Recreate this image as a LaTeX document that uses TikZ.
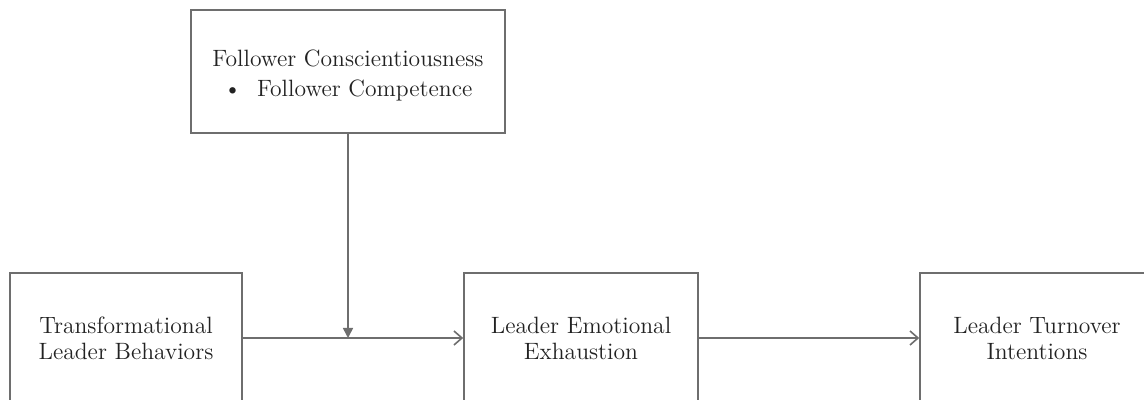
\documentclass[tikz,border=0pt]{standalone}
\usepackage{tikz}
\usetikzlibrary{arrows.meta}

\definecolor{linegray}{HTML}{6E6E6E}
\definecolor{textgray}{HTML}{222222}

\tikzset{
    box/.style = {draw=linegray, thick, align=center, text=textgray,
                  font=\fontsize{11.8}{13}\selectfont, inner sep=0pt},
    link/.style = {draw=linegray, thick}
}

\begin{document}
\begin{tikzpicture}[x=0.5pt, y=-0.5pt]
    \clip (0,0) rectangle (1144,400);
    \fill [white] (0,0) rectangle (1144,400);
    % moderator on top
    \node [box, minimum width=157pt, minimum height=61.5pt] (fc) at (348,71.5)
        {\rule{0pt}{12.5pt}Follower Conscientiousness\\[2pt] \textbullet\ \ Follower Competence};
    % main path
    \node [box, minimum width=116pt, minimum height=65pt] (tlb) at (126,338)
        {Transformational\\Leader Behaviors};
    \node [box, minimum width=117pt, minimum height=65pt] (lee) at (581,338)
        {Leader Emotional\\Exhaustion};
    \node [box, minimum width=117pt, minimum height=65pt] (lti) at (1037,338)
        {Leader Turnover\\Intentions};
    \coordinate (mod) at (fc.south |- tlb.east);
    \draw [link, -{Straight Barb[length=4pt, width=7pt]}] (tlb) -- (lee);
    \draw [link, -{Straight Barb[length=4pt, width=7pt]}] (lee) -- (lti);
    \draw [link, -{Triangle[length=5pt, width=5pt]}] (fc) -- (mod);
\end{tikzpicture}
\end{document}
